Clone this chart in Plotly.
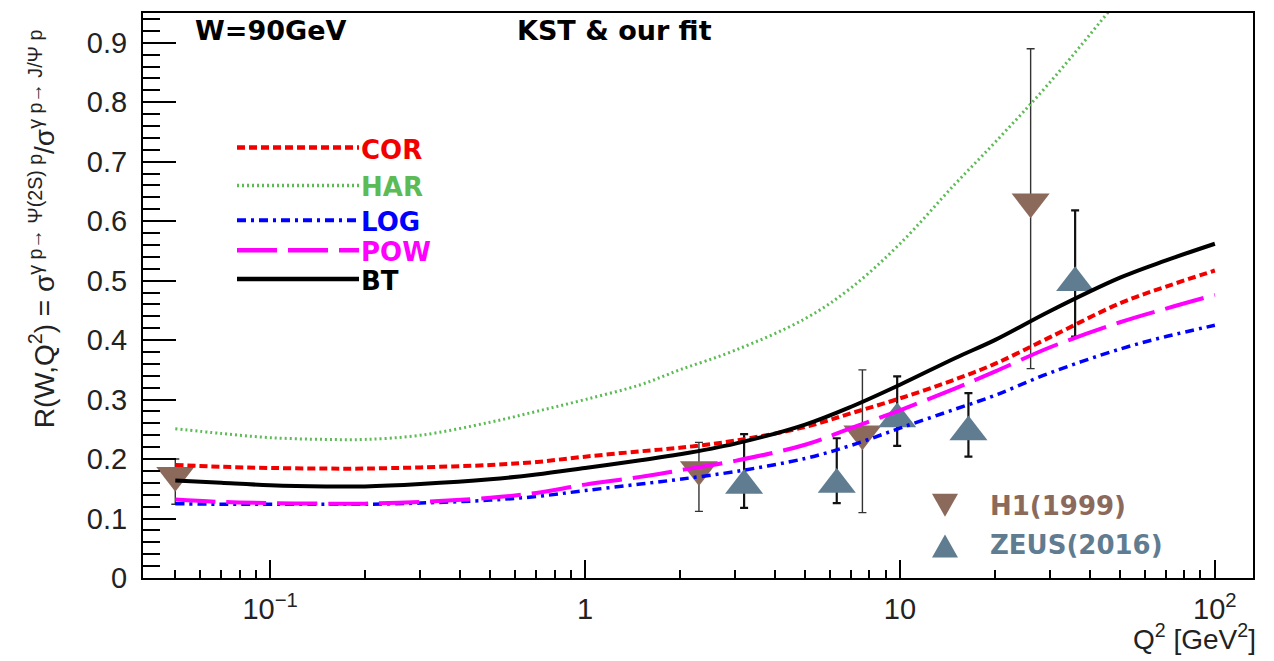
import plotly.graph_objects as go

# ---------------- data ----------------
q2_nodes = [0.05, 0.07, 0.1, 0.15, 0.2, 0.3, 0.5, 0.7, 1, 1.5, 2, 3, 5, 7, 10, 15, 20, 30, 50, 70, 100]
cor = [0.190, 0.187, 0.185, 0.184, 0.184, 0.186, 0.190, 0.195, 0.204, 0.213, 0.219, 0.231, 0.254, 0.277,
       0.302, 0.334, 0.360, 0.405, 0.462, 0.490, 0.517]
har_q2 = [0.05, 0.07, 0.1, 0.15, 0.2, 0.3, 0.5, 0.7, 1, 1.5, 2, 3, 5, 7, 10, 15, 20, 30, 50]
har = [0.251, 0.243, 0.236, 0.233, 0.233, 0.240, 0.262, 0.280, 0.300, 0.325, 0.350, 0.383, 0.436, 0.488,
       0.562, 0.663, 0.732, 0.834, 0.976]
log_m = [0.125, 0.124, 0.124, 0.124, 0.124, 0.126, 0.131, 0.137, 0.147, 0.158, 0.166, 0.179, 0.201, 0.223,
         0.252, 0.284, 0.307, 0.345, 0.385, 0.406, 0.425]
pow_m = [0.132, 0.128, 0.126, 0.125, 0.125, 0.128, 0.135, 0.143, 0.157, 0.170, 0.181, 0.197, 0.224, 0.252,
         0.282, 0.319, 0.347, 0.388, 0.430, 0.453, 0.476]
bt = [0.164, 0.160, 0.156, 0.154, 0.154, 0.158, 0.166, 0.174, 0.185, 0.198, 0.208, 0.226, 0.258, 0.288,
      0.325, 0.370, 0.400, 0.449, 0.505, 0.534, 0.562]

h1_q2 = [0.05, 2.3, 7.6, 26.0]
h1_r = [0.160, 0.170, 0.230, 0.620]
h1_err_up = [0.040, 0.058, 0.120, 0.270]
h1_err_dn = [0.036, 0.058, 0.120, 0.268]

zeus_q2 = [3.2, 6.3, 9.8, 16.5, 36.0]
zeus_r = [0.168, 0.170, 0.280, 0.258, 0.509]
zeus_err_up = [0.074, 0.065, 0.059, 0.053, 0.109]
zeus_err_dn = [0.050, 0.044, 0.058, 0.054, 0.103]

x_tickvals = [0.1, 1, 10, 100]
x_ticktext = ["10<sup>\u22121</sup>", "1", "10", "10<sup>2</sup>"]
x_minor = [0.05, 0.06, 0.07, 0.08, 0.09, 0.2, 0.3, 0.4, 0.5, 0.6, 0.7, 0.8, 0.9,
           2, 3, 4, 5, 6, 7, 8, 9, 20, 30, 40, 50, 60, 70, 80, 90]
y_tickvals = [0, 0.1, 0.2, 0.3, 0.4, 0.5, 0.6, 0.7, 0.8, 0.9]
y_ticktext = ["0", "0.1", "0.2", "0.3", "0.4", "0.5", "0.6", "0.7", "0.8", "0.9"]

models = [
    ("COR", cor, "#f20000", "8px,4px", 4),
    ("HAR", har, "#5cbb55", "2px,3px", 3),
    ("LOG", log_m, "#0000ff", "9px,5px,3px,5px", 3.5),
    ("POW", pow_m, "#ff00ff", "40px,11px", 4),
    ("BT", bt, "#000000", "solid", 4),
]

H1_COLOR = "#8b6a5b"
ZEUS_COLOR = "#5f7c91"

# ---------------- geometry helpers ----------------
W, H = 1274, 661
ML, MR, MT, MB = 143, 21, 11, 83
PW, PH = W - ML - MR, H - MT - MB
YR = 0.95


def px(xp):
    return (xp - ML) / PW


def py(yp):
    return (H - MB - yp) / PH


# vertical offset so plotly triangles are centred like ROOT markers
MS = 33
delta = (MS / 2 * (2 ** 0.5) - MS / 4) / 2 * YR / PH

fig = go.Figure()

# error bars (main axes)
fig.add_trace(go.Scatter(
    x=h1_q2, y=h1_r, mode="markers", marker=dict(size=1, opacity=0),
    error_y=dict(type="data", symmetric=False, array=h1_err_up, arrayminus=h1_err_dn,
                 color="#333333", thickness=1.4, width=4),
    hoverinfo="skip", showlegend=False))
fig.add_trace(go.Scatter(
    x=zeus_q2, y=zeus_r, mode="markers", marker=dict(size=1, opacity=0),
    error_y=dict(type="data", symmetric=False, array=zeus_err_up, arrayminus=zeus_err_dn,
                 color="#111111", thickness=2.2, width=4),
    hoverinfo="skip", showlegend=False))

# markers
fig.add_trace(go.Scatter(
    x=h1_q2, y=h1_r, mode="markers", yaxis="y2",
    marker=dict(symbol="triangle-down", size=MS, color=H1_COLOR, line=dict(width=0)),
    name="H1(1999)", showlegend=False))
fig.add_trace(go.Scatter(
    x=zeus_q2, y=zeus_r, mode="markers", yaxis="y3",
    marker=dict(symbol="triangle-up", size=MS, color=ZEUS_COLOR, line=dict(width=0)),
    name="ZEUS(2016)", showlegend=False))

# model curves (on top)
for name, vals, col, dash, lw in models:
    xs = har_q2 if name == "HAR" else q2_nodes
    fig.add_trace(go.Scatter(
        x=xs, y=vals, mode="lines", yaxis="y4", name=name,
        line=dict(color=col, dash=dash, width=lw, shape="spline", smoothing=1.0),
        showlegend=False))

axis_font = dict(family="Liberation Sans, Arial, sans-serif", size=29, color="#222222")

fig.update_layout(
    width=W, height=H,
    margin=dict(l=ML, r=MR, t=MT, b=MB),
    paper_bgcolor="white", plot_bgcolor="white",
    showlegend=False,
    xaxis=dict(
        type="log", range=[-1.4036, 2.1211],
        showline=True, linecolor="black", linewidth=2, mirror=True,
        ticks="inside", ticklen=18, tickwidth=2, tickcolor="black",
        tickmode="array", tickvals=x_tickvals, ticktext=x_ticktext,
        tickfont=axis_font, ticklabelstandoff=4,
        showgrid=False, zeroline=False,
        minor=dict(ticks="inside", ticklen=8, tickwidth=2, tickcolor="black",
                   tickmode="array", tickvals=x_minor, showgrid=False),
    ),
    yaxis=dict(
        range=[0, YR],
        showline=True, linecolor="black", linewidth=2, mirror=True,
        ticks="inside", ticklen=33, tickwidth=2, tickcolor="black",
        tickmode="array", tickvals=y_tickvals, ticktext=y_ticktext,
        tickfont=axis_font, ticklabelstandoff=8,
        showgrid=False, zeroline=False,
        minor=dict(ticks="inside", ticklen=17, tickwidth=2, tickcolor="black",
                   dtick=0.02, tick0=0, showgrid=False),
    ),
    yaxis2=dict(range=[-delta, YR - delta], overlaying="y", visible=False),
    yaxis3=dict(range=[delta, YR + delta], overlaying="y", visible=False),
    yaxis4=dict(range=[0, YR], overlaying="y", visible=False),
)

bold = "DejaVu Sans, sans-serif"
annots = []
# header texts
annots.append(dict(text="<b>W=90GeV</b>", x=px(193), y=py(29), xanchor="left", yanchor="middle",
                   font=dict(family=bold, size=27, color="black")))
annots.append(dict(text="<b>KST & our fit</b>", x=px(515), y=py(29), xanchor="left", yanchor="middle",
                   font=dict(family=bold, size=27, color="black")))

# model legend
leg_y = [146, 184, 219, 249, 278]
shapes = []
for (name, vals, col, dash, lw), yy in zip(models, leg_y):
    shapes.append(dict(type="line", xref="paper", yref="paper", x0=px(237), x1=px(359),
                       y0=py(yy), y1=py(yy), line=dict(color=col, width=lw + 0.5, dash=dash)))
    annots.append(dict(text="<b>%s</b>" % name, x=px(360), y=py(yy + 2), xanchor="left",
                       yanchor="middle", borderpad=0,
                       font=dict(family=bold, size=26, color=col)))

# data legend
shapes.append(dict(type="path", xref="paper", yref="paper", xsizemode="pixel", ysizemode="pixel",
                   xanchor=px(945), yanchor=py(505), path="M-13,11.5 L13,11.5 L0,-11.5 Z",
                   fillcolor=H1_COLOR, line=dict(width=0)))
shapes.append(dict(type="path", xref="paper", yref="paper", xsizemode="pixel", ysizemode="pixel",
                   xanchor=px(945), yanchor=py(546), path="M-13,-11.5 L13,-11.5 L0,11.5 Z",
                   fillcolor=ZEUS_COLOR, line=dict(width=0)))
annots.append(dict(text="<b>H1(1999)</b>", x=px(988), y=py(506), xanchor="left", yanchor="middle",
                   font=dict(family=bold, size=26, color=H1_COLOR)))
annots.append(dict(text="<b>ZEUS(2016)</b>", x=px(988), y=py(545), xanchor="left", yanchor="middle",
                   font=dict(family=bold, size=26, color=ZEUS_COLOR)))

# axis titles
annots.append(dict(text="Q<sup>2</sup> [GeV<sup>2</sup>]", x=px(1258), y=py(637), xanchor="right",
                   yanchor="middle", font=dict(family="Liberation Sans, Arial", size=28, color="#222222")))
annots.append(dict(
    text="R(W,Q<sup>2</sup>) = \u03c3<sup>\u03b3 p\u2192 \u03a8(2S) p</sup>/\u03c3<sup>\u03b3 p\u2192 J/\u03a8 p</sup>",
    x=px(42), y=py(228), xanchor="center", yanchor="middle", textangle=-90,
    font=dict(family="Liberation Sans, Arial", size=28, color="#222222")))

for a in annots:
    a.setdefault("xref", "paper")
    a.setdefault("yref", "paper")
    a["showarrow"] = False
fig.update_layout(annotations=annots, shapes=shapes)

fig.write_html("out.html")
